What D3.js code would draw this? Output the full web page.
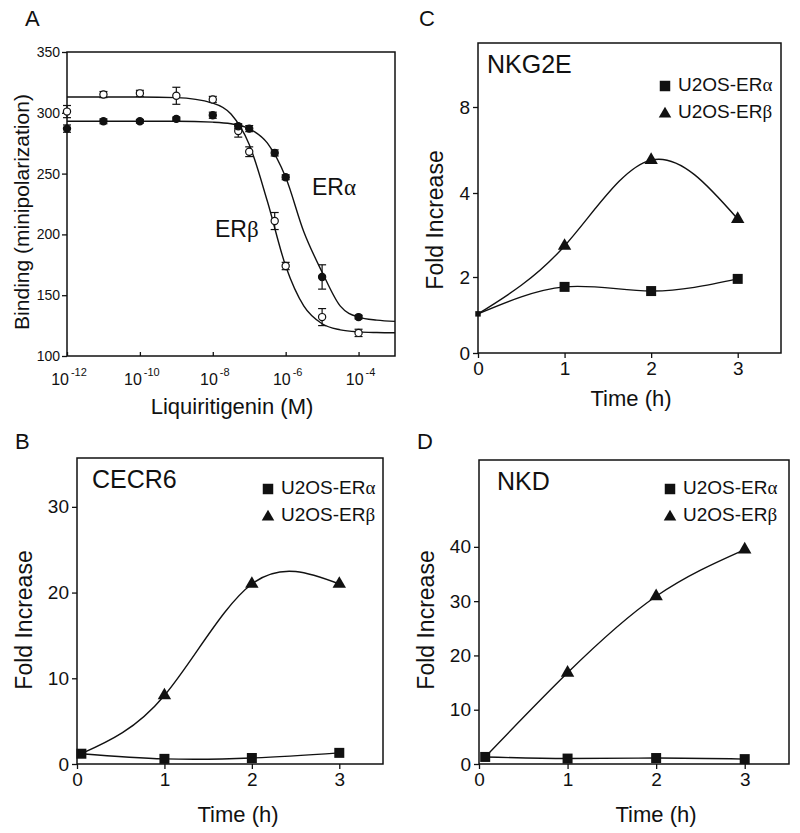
<!DOCTYPE html>
<html><head><meta charset="utf-8">
<script src="https://cdn.jsdelivr.net/npm/d3@7"></script>
<style>
body{margin:0;background:#fff}
svg{display:block}
text{font-family:"Liberation Sans",Arial,Helvetica,sans-serif;fill:#111}
</style>
</head><body>
<svg id="chart" width="800" height="833"></svg>
<script>
// ---------------- DATA ----------------
// Panel A: competitive binding
const concentrations = [1e-12, 1e-11, 1e-10, 1e-9, 1e-8, 5e-8, 1e-7, 5e-7, 1e-6, 1e-5, 1e-4];
const erAlphaBinding = [287, 293, 293, 295, 298, 289, 287, 267, 247, 165, 132];
const erAlphaError   = [3, 2, 1.5, 1.5, 2.5, 2, 2.5, 2.5, 2, 10, 1.5];
const erBetaBinding  = [301, 315, 316, 314, 311, 285, 268, 211, 174, 132, 119];
const erBetaError    = [5, 2.5, 2.5, 7, 2.5, 5, 4, 7, 3, 7, 3];
// fitted curves
const fitLogConc   = [-12, -11, -10, -9, -8, -7.5, -7, -6.5, -6, -5.5, -5, -4.5, -4, -3.5, -3];
const erAlphaFit   = [293, 293, 293, 293, 292.3, 291, 287, 275, 247, 202, 169, 141, 132, 129.5, 128.5];
const erBetaFit    = [313, 313, 313, 312.5, 308, 299, 274, 227, 174, 141, 126.5, 121.5, 119.8, 119.3, 119.1];
const bindingTicks = [100, 150, 200, 250, 300, 350];
const concTickExps = [-12, -10, -8, -6, -4];

// Time-course panels
const timeTicks = [0, 1, 2, 3];
const nkg2eTime  = [0, 1, 2, 3];
const nkg2eAlpha = [1.03, 1.74, 1.63, 1.95];
const nkg2eBeta  = [1.03, 2.74, 5.53, 3.38];
const nkg2eTicks = [0, 2, 4, 8];

const cecr6Time  = [0.05, 1, 2, 3];
const cecr6Alpha = [1.2, 0.6, 0.7, 1.3];
const cecr6Beta  = [1.2, 8.0, 21.0, 21.0];
const cecr6Ticks = [0, 10, 20, 30];

const nkdTime  = [0.07, 1, 2, 3];
const nkdAlpha = [1.3, 1.0, 1.1, 0.9];
const nkdBeta  = [1.3, 16.8, 30.9, 39.5];
const nkdTicks = [0, 10, 20, 30, 40];

const legendLabels = ["U2OS-ER", "U2OS-ER"];
const legendGreek  = ["\u03b1", "\u03b2"];

// ---------------- DRAW ----------------
const svg = d3.select("#chart");
const INK = "#111";
const GREEK_FONT = "'Liberation Serif','DejaVu Serif',serif";

function greekText(g, x, y, base, greek, size, anchor) {
  const t = g.append("text").attr("x", x).attr("y", y).attr("font-size", size)
    .attr("text-anchor", anchor || "start");
  t.append("tspan").text(base);
  t.append("tspan").attr("font-family", GREEK_FONT).text(greek);
  return t;
}

function styleAxis(g, fontSize) {
  g.select(".domain").remove();
  g.selectAll(".tick line").attr("stroke", INK).attr("stroke-width", 1.3);
  g.selectAll(".tick text").attr("font-size", fontSize).attr("fill", INK)
    .attr("font-family", "'Liberation Sans',Arial,sans-serif");
}

// ---- Panel A ----
(function () {
  const L = 67, R = 395, T = 52, B = 356;
  const x = d3.scaleLog().domain([1e-12, 1e-3]).range([L, R]);
  const y = d3.scaleLinear().domain([100, 350]).range([B, T]);
  const g = svg.append("g");

  const ya = g.append("g").attr("transform", `translate(${L},0)`)
    .call(d3.axisLeft(y).tickValues(bindingTicks).tickSize(5).tickPadding(2).tickFormat(d3.format("d")));
  styleAxis(ya, 14);
  const xa = g.append("g").attr("transform", `translate(0,${B})`)
    .call(d3.axisTop(x).tickValues(concTickExps.map(e => Math.pow(10, e))).tickSize(4).tickFormat(""));
  styleAxis(xa, 14);
  concTickExps.forEach(e => {
    const t = g.append("text").attr("x", x(Math.pow(10, e)) + 2).attr("y", B + 29)
      .attr("text-anchor", "middle").attr("font-size", 16);
    t.append("tspan").text("10");
    t.append("tspan").attr("font-size", 11).attr("dx", 2).attr("dy", -9).text(String(e));
  });

  g.append("rect").attr("x", L).attr("y", T).attr("width", R - L).attr("height", B - T)
    .attr("fill", "none").attr("stroke", INK).attr("stroke-width", 1.5);

  const line = d3.line().x(d => x(Math.pow(10, d[0]))).y(d => y(d[1])).curve(d3.curveMonotoneX);
  g.append("path").datum(fitLogConc.map((c, i) => [c, erAlphaFit[i]]))
    .attr("d", line).attr("fill", "none").attr("stroke", INK).attr("stroke-width", 1.4);
  g.append("path").datum(fitLogConc.map((c, i) => [c, erBetaFit[i]]))
    .attr("d", line).attr("fill", "none").attr("stroke", INK).attr("stroke-width", 1.4);

  function series(values, errs, filled) {
    const data = concentrations.map((c, i) => ({ c, v: values[i], e: errs[i] }));
    const eb = g.append("g").attr("stroke", INK).attr("stroke-width", 1.2);
    data.forEach(d => {
      const cx = x(d.c);
      eb.append("line").attr("x1", cx).attr("x2", cx).attr("y1", y(d.v - d.e)).attr("y2", y(d.v + d.e));
      eb.append("line").attr("x1", cx - 4).attr("x2", cx + 4).attr("y1", y(d.v - d.e)).attr("y2", y(d.v - d.e));
      eb.append("line").attr("x1", cx - 4).attr("x2", cx + 4).attr("y1", y(d.v + d.e)).attr("y2", y(d.v + d.e));
    });
    g.append("g").selectAll("circle").data(data).join("circle")
      .attr("cx", d => x(d.c)).attr("cy", d => y(d.v)).attr("r", 3.6)
      .attr("fill", filled ? INK : "#fff").attr("stroke", INK).attr("stroke-width", 1.2);
  }
  series(erBetaBinding, erBetaError, false);
  series(erAlphaBinding, erAlphaError, true);

  greekText(g, 312, 195, "ER", "\u03b1", 23);
  greekText(g, 215, 237, "ER", "\u03b2", 23);
  g.append("text").attr("transform", "translate(29,212) rotate(-90)").attr("text-anchor", "middle")
    .attr("font-size", 21).text("Binding (minipolarization)");
  g.append("text").attr("x", 232).attr("y", 414).attr("text-anchor", "middle")
    .attr("font-size", 22).text("Liquiritigenin (M)");
  g.append("text").attr("x", 25).attr("y", 26).attr("font-size", 22).text("A");
})();

// ---- time-course panels ----
function timePanel(cfg) {
  const { L, R, T, B } = cfg;
  const x = d3.scaleLinear().domain([0, 3.5]).range([L, R]);
  const y = d3.scaleLinear().domain(cfg.yDomain).range(cfg.yRange);
  const g = svg.append("g");

  const ya = g.append("g").attr("transform", `translate(${L},0)`)
    .call(d3.axisLeft(y).tickValues(cfg.yTicks).tickSize(5).tickPadding(3).tickFormat(d3.format("d")));
  styleAxis(ya, 19);
  const xa = g.append("g").attr("transform", `translate(0,${B})`)
    .call(d3.axisBottom(x).tickValues(timeTicks).tickSize(5).tickPadding(4).tickFormat(d3.format("d")));
  styleAxis(xa, 19);

  g.append("rect").attr("x", L).attr("y", T).attr("width", R - L).attr("height", B - T)
    .attr("fill", "none").attr("stroke", INK).attr("stroke-width", 1.5);

  const line = d3.line().x(d => x(d[0])).y(d => y(d[1])).curve(d3.curveNatural);
  const aData = cfg.time.map((t, i) => [t, cfg.alpha[i]]);
  const bData = cfg.time.map((t, i) => [t, cfg.beta[i]]);
  g.append("path").datum(aData).attr("d", line).attr("fill", "none").attr("stroke", INK).attr("stroke-width", 1.4);
  g.append("path").datum(bData).attr("d", line).attr("fill", "none").attr("stroke", INK).attr("stroke-width", 1.4);

  const sq = d3.symbol().type(d3.symbolSquare);
  const tri = d3.symbol().type(d3.symbolTriangle).size(78);
  g.append("g").selectAll("path").data(bData.slice(cfg.skipFirstBeta ? 1 : 0)).join("path")
    .attr("transform", d => `translate(${x(d[0])},${y(d[1])})`).attr("d", tri).attr("fill", INK);
  g.append("g").selectAll("path").data(aData).join("path")
    .attr("transform", d => `translate(${x(d[0])},${y(d[1])})`)
    .attr("d", (d, i) => sq.size(i === 0 && cfg.smallFirst ? 30 : 100)())
    .attr("fill", INK);

  g.append("text").attr("x", cfg.titleX).attr("y", cfg.titleY).attr("font-size", 25).text(cfg.title);
  const lx = cfg.legX, ly = cfg.legY;
  g.append("path").attr("transform", `translate(${lx},${ly[0] - 5})`).attr("d", sq.size(110)()).attr("fill", INK);
  g.append("path").attr("transform", `translate(${lx},${ly[1] - 4})`).attr("d", d3.symbol().type(d3.symbolTriangle).size(68)()).attr("fill", INK);
  legendLabels.forEach((lab, i) => greekText(g, lx + 13, ly[i], lab, legendGreek[i], 19));

  g.append("text").attr("transform", `translate(${cfg.yLabX},${cfg.yLabY}) rotate(-90)`)
    .attr("text-anchor", "middle").attr("font-size", 23).text("Fold Increase");
  g.append("text").attr("x", cfg.xLabX).attr("y", cfg.xLabY).attr("text-anchor", "middle")
    .attr("font-size", 22).text("Time (h)");
  g.append("text").attr("x", cfg.letterX).attr("y", cfg.letterY).attr("font-size", 22).text(cfg.letter);
}

// Panel C: NKG2E (tick spacing of the original axis is uneven)
timePanel({
  L: 478, R: 781, T: 43, B: 353,
  yDomain: [0, 2, 4, 8, 11], yRange: [353, 277, 193, 107, 43], yTicks: nkg2eTicks,
  time: nkg2eTime, alpha: nkg2eAlpha, beta: nkg2eBeta, smallFirst: true, skipFirstBeta: true,
  title: "NKG2E", titleX: 487, titleY: 73,
  legX: 665, legY: [91, 118],
  yLabX: 443, yLabY: 220, xLabX: 631, xLabY: 406,
  letter: "C", letterX: 419, letterY: 26
});
// Panel B: CECR6
timePanel({
  L: 77, R: 383, T: 458, B: 764,
  yDomain: [0, 35.7], yRange: [764, 458], yTicks: cecr6Ticks,
  time: cecr6Time, alpha: cecr6Alpha, beta: cecr6Beta, smallFirst: false, skipFirstBeta: true,
  title: "CECR6", titleX: 92, titleY: 488,
  legX: 268, legY: [494, 521],
  yLabX: 32, yLabY: 620, xLabX: 238, xLabY: 822,
  letter: "B", letterX: 15, letterY: 449
});
// Panel D: NKD
timePanel({
  L: 479, R: 789, T: 460, B: 764,
  yDomain: [0, 56], yRange: [764, 460], yTicks: nkdTicks,
  time: nkdTime, alpha: nkdAlpha, beta: nkdBeta, smallFirst: false, skipFirstBeta: true,
  title: "NKD", titleX: 497, titleY: 490,
  legX: 670, legY: [494, 521],
  yLabX: 434, yLabY: 620, xLabX: 656, xLabY: 822,
  letter: "D", letterX: 417, letterY: 449
});
</script>
</body></html>
